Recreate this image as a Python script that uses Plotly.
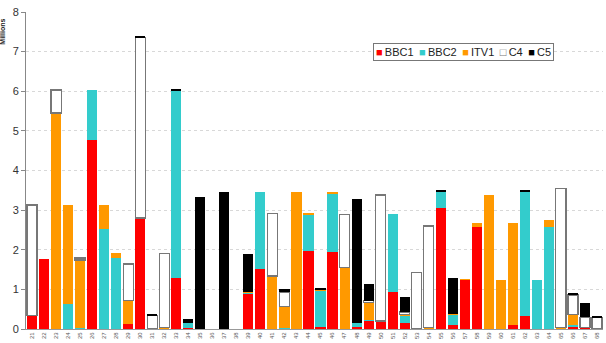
import plotly.graph_objects as go

# Episode numbers
episodes = [str(n) for n in range(21, 69)]

# Audience in millions per channel, one value per episode
bbc1 = [0.35, 1.77, 0, 0, 0, 4.78, 0, 0, 0.13, 2.80,
        0, 0, 1.28, 0.02, 0, 0, 0, 0, 0.90, 1.52,
        0, 0, 0, 1.96, 0.04, 1.94, 0, 0.06, 0.21, 0.20,
        0.94, 0.14, 0, 0, 3.05, 0.10, 1.24, 2.58, 0, 0,
        0.11, 0.34, 0, 0, 0.02, 0.07, 0.04, 0]
bbc2 = [0, 0, 0, 0.64, 0.02, 1.25, 2.52, 1.78, 0, 0,
        0, 0, 4.75, 0.13, 0, 0, 0, 0, 0.02, 1.93,
        0, 0.02, 0, 0.93, 0.93, 1.49, 0, 0.08, 0.02, 0,
        1.95, 0.20, 0, 0, 0.42, 0.26, 0, 0, 0, 0,
        0, 3.13, 1.24, 2.58, 0, 0.04, 0, 0]
itv1 = [0, 0, 5.45, 2.48, 1.72, 0, 0.60, 0.14, 0.58, 0,
        0, 0.03, 0, 0, 0, 0, 0, 0, 0.02, 0,
        1.34, 0.55, 3.45, 0.02, 0.03, 0.03, 1.55, 0, 0.43, 0,
        0, 0.02, 0, 0.03, 0, 0.03, 0.02, 0.10, 3.37, 1.24,
        2.57, 0, 0, 0.17, 0.02, 0.25, 0, 0.02]
c4 = [2.78, 0, 0.58, 0, 0.05, 0, 0, 0, 0.93, 4.55,
      0.34, 1.87, 0, 0, 0, 0, 0, 0, 0, 0,
      1.58, 0.36, 0, 0, 0, 0, 1.34, 0, 0.05, 3.18,
      0, 0.07, 1.43, 2.57, 0, 0, 0, 0, 0, 0,
      0, 0, 0, 0, 3.51, 0.50, 0.26, 0.27]
c5 = [0, 0, 0, 0, 0, 0, 0, 0, 0, 0.03,
      0.04, 0, 0.02, 0.10, 3.33, 0, 3.45, 0, 0.96, 0,
      0, 0.09, 0, 0, 0.02, 0, 0, 3.14, 0.43, 0,
      0, 0.38, 0, 0, 0.05, 0.90, 0, 0, 0, 0,
      0, 0.03, 0, 0, 0, 0.04, 0.36, 0.04]

series = [
    ("BBC1", bbc1, "#ff0000", "#ff0000", 0, "■"),
    ("BBC2", bbc2, "#33cccc", "#33cccc", 0, "■"),
    ("ITV1", itv1, "#ff9900", "#ff9900", 0, "■"),
    ("C4", c4, "#ffffff", "#777777", 1.2, "□"),
    ("C5", c5, "#000000", "#000000", 0, "■"),
]

fig = go.Figure()
for name, vals, color, lcolor, lw, _ in series:
    fig.add_trace(go.Bar(
        x=episodes,
        y=[v if v > 0 else None for v in vals],
        name=name,
        marker=dict(color=color, line=dict(color=lcolor, width=lw)),
    ))

fig.update_layout(
    barmode="stack",
    bargap=0.16,
    width=606, height=343,
    margin=dict(l=26, r=3, t=12, b=14),
    paper_bgcolor="white",
    plot_bgcolor="white",
    font=dict(family="Liberation Sans, Arial, sans-serif", color="#333333"),
    showlegend=False,
    xaxis=dict(
        type="category",
        tickangle=-90,
        tickfont=dict(size=6, color="#555555"),
        showline=True, linecolor="#999999", linewidth=1,
        ticks="", showgrid=False,
    ),
    yaxis=dict(
        range=[0, 8],
        dtick=1,
        tickfont=dict(size=11, color="#333333"),
        showline=True, linecolor="#888888", linewidth=1,
        ticks="outside", ticklen=4, tickcolor="#888888",
        showgrid=True, gridcolor="#d8d8d8", griddash="dot", gridwidth=1,
        zeroline=False,
    ),
)

# compact legend box built from coloured square glyphs
legend_text = "\u2002".join(
    f'<span style="color:{lc if sym == "□" else c}">{sym}</span>\u2009{name}'
    for name, _, c, lc, _, sym in series
)
fig.add_annotation(
    text=legend_text,
    xref="paper", yref="paper", x=0.602, y=0.874,
    xanchor="left", yanchor="middle", showarrow=False,
    font=dict(size=11, color="#222222"),
    bordercolor="#777777", borderwidth=1, borderpad=2,
    bgcolor="white",
)

fig.add_annotation(
    text="<b>Millions</b>", textangle=-90,
    xref="paper", yref="paper", x=-0.04, y=0.985,
    xanchor="center", yanchor="top", showarrow=False,
    font=dict(size=7, color="#222222"),
)

fig.write_html("out.html")
